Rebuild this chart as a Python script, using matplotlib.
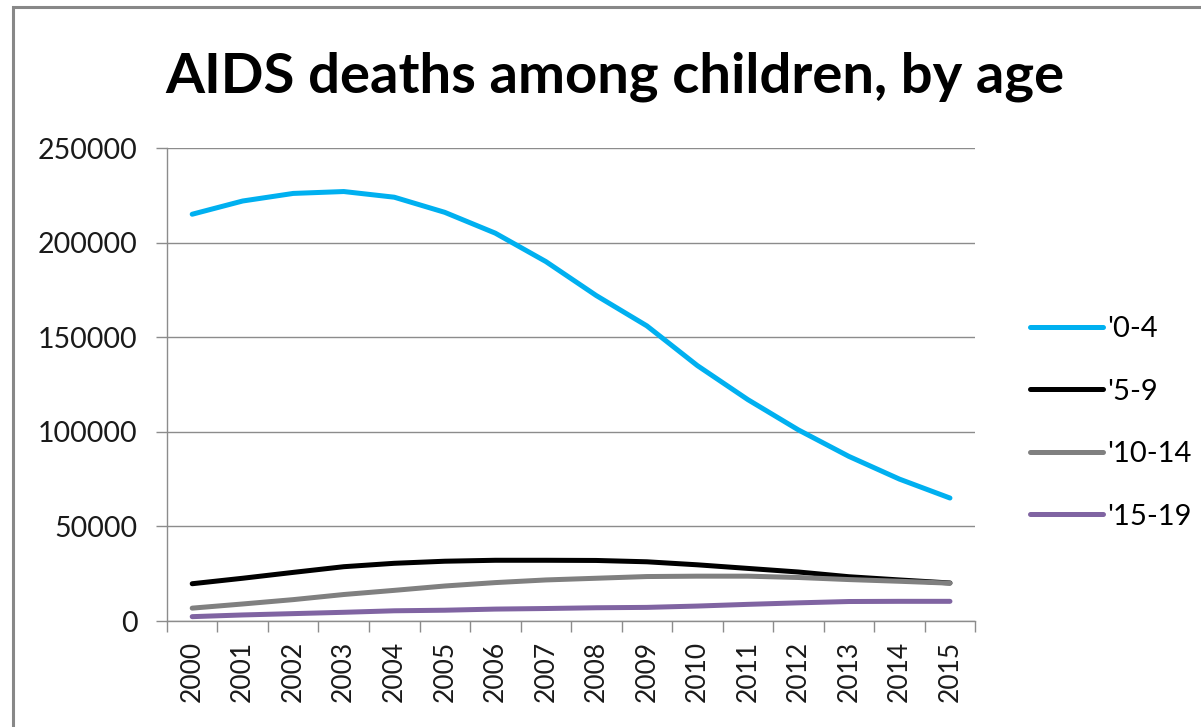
import matplotlib
matplotlib.use("Agg")
import matplotlib.pyplot as plt
from matplotlib.patches import Rectangle
from matplotlib.ticker import FixedLocator, MultipleLocator

# AIDS deaths among children by age group, 2000-2015
years = [str(y) for y in range(2000, 2016)]
age_0_4 = [215000, 222000, 226000, 227000, 224000, 216000, 205000, 190000,
           172000, 156000, 135000, 117000, 101000, 87000, 75000, 65000]
age_5_9 = [19700, 22600, 25700, 28700, 30500, 31600, 32100, 32100,
           32000, 31300, 29700, 27800, 25900, 23400, 21700, 20100]
age_10_14 = [6800, 9000, 11300, 14000, 16200, 18500, 20300, 21700,
             22600, 23500, 23700, 23700, 23000, 21900, 21000, 20000]
age_15_19 = [2300, 3200, 3900, 4600, 5400, 5700, 6300, 6600,
             7000, 7200, 7900, 8800, 9600, 10300, 10400, 10400]

series = [
    ("'0-4", age_0_4, "#00B0F0"),
    ("'5-9", age_5_9, "#000000"),
    ("'10-14", age_10_14, "#808080"),
    ("'15-19", age_15_19, "#8064A2"),
]

plt.rcParams["font.family"] = ["Lato", "DejaVu Sans"]

fig = plt.figure(figsize=(12.01, 7.27), dpi=100)
ax = fig.add_axes([0.139, 0.1458, 0.673, 0.6506])

x = range(len(years))
for label, values, color in series:
    ax.plot(x, values, color=color, lw=3.6, label=label,
            solid_capstyle="round", solid_joinstyle="round")

grid_c = "#8c8c8c"
ax.set_xlim(-0.5, len(years) - 0.5)
ax.set_ylim(0, 250000)
ax.yaxis.set_major_locator(MultipleLocator(50000))
ax.grid(axis="y", color=grid_c, lw=1.0)
ax.set_axisbelow(True)

# category labels centred, tick marks between categories
ax.set_xticks(list(x))
ax.set_xticklabels(years, rotation=90, fontsize=19, color="#1a1a1a")
ax.xaxis.set_minor_locator(FixedLocator([i - 0.5 for i in range(len(years) + 1)]))
ax.tick_params(axis="x", which="major", length=0, pad=14)
ax.tick_params(axis="x", which="minor", length=8, width=1, color=grid_c)
ax.tick_params(axis="y", length=8, width=1, color=grid_c, labelsize=20.5,
               labelcolor="#1a1a1a", pad=13)

for side in ("top", "right"):
    ax.spines[side].set_visible(False)
for side in ("left", "bottom"):
    ax.spines[side].set_color(grid_c)
    ax.spines[side].set_linewidth(1.0)

fig.text(0.512, 0.895, "AIDS deaths among children, by age", ha="center",
         va="center", fontsize=40.5, fontweight="bold", color="#000000")

leg = ax.legend(loc="center left", bbox_to_anchor=(1.035, 0.419), frameon=False,
                fontsize=21, handlelength=2.5, handletextpad=0.15,
                labelspacing=1.25)
for line in leg.get_lines():
    line.set_linewidth(3.6)

# outer chart frame
fig.patches.append(Rectangle((12.5 / 1201, -0.05), 1.0, 0.9897 + 0.05,
                             transform=fig.transFigure, fill=False,
                             edgecolor="#888888", lw=2.2))

fig.savefig("out.png", dpi=100, facecolor="white")
